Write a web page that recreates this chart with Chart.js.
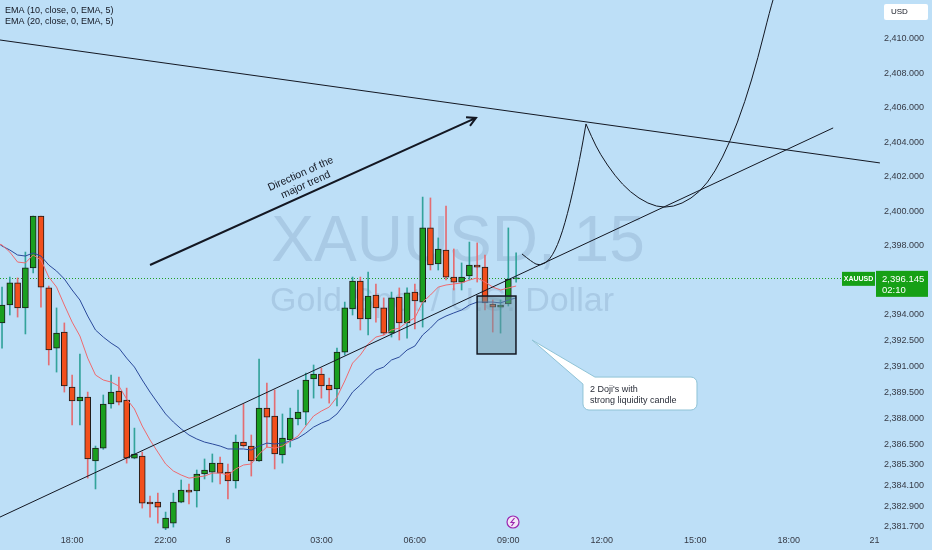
<!DOCTYPE html>
<html>
<head>
<meta charset="utf-8">
<script src="https://cdn.jsdelivr.net/npm/chart.js@4.4.1/dist/chart.umd.min.js"></script>
<style>
  html, body { margin: 0; padding: 0; background: #bddff7; }
  canvas { display: block; }
</style>
</head>
<body>
<canvas id="chart" width="932" height="550"></canvas>
<script>
// XAUUSD 15m, bar index 0 = first visible candle
const opens = [
  2393.53, 2394.57, 2395.85, 2394.40, 2396.72, 2399.73, 2395.56, 2392.07, 2393.00, 2389.81,
  2389.00, 2389.23, 2385.52, 2386.27, 2388.83, 2389.58, 2389.06, 2385.69, 2385.81, 2383.14,
  2383.14, 2381.63, 2381.92, 2383.14, 2383.84, 2383.78, 2384.77, 2384.88, 2385.40, 2384.88,
  2384.36, 2386.62, 2386.39, 2385.52, 2388.59, 2388.13, 2385.87, 2386.74, 2387.96, 2388.36,
  2390.28, 2390.57, 2389.93, 2389.70, 2391.84, 2394.34, 2395.96, 2393.76, 2395.15, 2394.40,
  2392.94, 2395.03, 2393.53, 2395.32, 2394.74, 2399.04, 2396.95, 2397.76, 2396.19, 2395.90,
  2396.25, 2396.89, 2396.77, 2394.63, 2394.45, 2394.63, 2396.08
];
const highs = [
  2395.61, 2396.19, 2396.14, 2397.64, 2399.73, 2399.73, 2395.67, 2394.40, 2393.53, 2390.51,
  2391.73, 2389.52, 2386.39, 2389.35, 2390.51, 2390.39, 2389.75, 2387.43, 2386.04, 2383.49,
  2383.66, 2382.56, 2383.66, 2384.42, 2384.19, 2385.00, 2385.64, 2385.93, 2385.75, 2385.35,
  2387.03, 2388.83, 2387.03, 2391.44, 2390.04, 2389.64, 2388.25, 2388.59, 2389.64, 2390.62,
  2391.09, 2390.91, 2390.33, 2392.07, 2394.74, 2396.19, 2396.19, 2396.48, 2395.79, 2394.98,
  2395.32, 2395.56, 2395.56, 2395.79, 2400.83, 2400.78, 2398.46, 2400.31, 2397.82, 2397.01,
  2398.22, 2398.17, 2397.47, 2394.86, 2394.86, 2399.04, 2397.59
];
const lows = [
  2392.07, 2393.99, 2393.87, 2392.89, 2396.43, 2394.45, 2391.09, 2390.68, 2389.52, 2387.61,
  2387.61, 2384.53, 2383.90, 2386.20, 2388.59, 2388.77, 2385.40, 2385.65, 2382.79, 2382.27,
  2381.92, 2381.52, 2381.69, 2383.10, 2383.03, 2382.85, 2384.48, 2384.30, 2384.19, 2383.32,
  2383.95, 2386.33, 2384.65, 2385.50, 2386.33, 2385.06, 2385.40, 2386.33, 2387.61, 2387.61,
  2389.17, 2389.17, 2388.88, 2388.71, 2391.67, 2393.99, 2393.12, 2392.83, 2393.58, 2392.83,
  2392.71, 2392.54, 2392.65, 2393.18, 2393.29, 2396.60, 2396.60, 2396.02, 2395.44, 2395.44,
  2396.02, 2395.90, 2394.28, 2393.00, 2392.94, 2394.51, 2395.90
];
const closes = [
  2394.57, 2395.85, 2394.40, 2396.72, 2399.73, 2395.61, 2391.96, 2392.94, 2389.87, 2389.00,
  2389.23, 2385.64, 2386.27, 2388.83, 2389.52, 2388.94, 2385.69, 2385.93, 2383.08, 2383.03,
  2382.85, 2382.21, 2383.14, 2383.84, 2383.72, 2384.77, 2385.00, 2385.40, 2384.82, 2384.36,
  2386.62, 2386.39, 2385.52, 2388.59, 2388.07, 2385.93, 2386.85, 2388.01, 2388.36, 2390.22,
  2390.57, 2389.87, 2389.64, 2391.84, 2394.40, 2395.96, 2393.76, 2395.09, 2394.40, 2392.94,
  2394.98, 2393.53, 2395.27, 2394.80, 2399.04, 2396.89, 2397.82, 2396.19, 2395.90, 2396.19,
  2396.89, 2396.77, 2394.69, 2394.45, 2394.57, 2396.08, 2396.145
];

// EMA lines start one bar before the first visible candle
const emaStart = -1;
const ema10 = [
  2398.22, 2398.05, 2397.64, 2397.06, 2397.01, 2397.47, 2397.18, 2396.19, 2395.61, 2394.57,
  2393.58, 2392.77, 2391.49, 2390.51, 2390.22, 2390.10, 2389.87, 2389.12, 2388.54, 2387.55,
  2386.74, 2386.04, 2385.35, 2384.94, 2384.71, 2384.53, 2384.59, 2384.65, 2384.82, 2384.82,
  2384.71, 2385.06, 2385.29, 2385.35, 2385.93, 2386.33, 2386.27, 2386.39, 2386.68, 2386.97,
  2387.55, 2388.13, 2388.42, 2388.65, 2389.23, 2390.16, 2391.20, 2391.67, 2392.31, 2392.71,
  2392.83, 2393.12, 2393.23, 2393.58, 2393.82, 2394.74, 2395.15, 2395.61, 2395.73, 2395.79,
  2395.85, 2396.02, 2396.14, 2395.90, 2395.61, 2395.44, 2395.56, 2395.67
];
const ema20 = [
  2398.34, 2397.99, 2397.76, 2397.47, 2397.41, 2397.59, 2397.41, 2396.89, 2396.54, 2396.08,
  2395.44, 2394.86, 2393.93, 2393.12, 2392.71, 2392.36, 2392.07, 2391.49, 2390.97, 2390.22,
  2389.52, 2388.88, 2388.25, 2387.78, 2387.38, 2387.03, 2386.80, 2386.62, 2386.51, 2386.39,
  2386.22, 2386.22, 2386.22, 2386.16, 2386.39, 2386.56, 2386.51, 2386.56, 2386.68, 2386.85,
  2387.14, 2387.49, 2387.72, 2387.90, 2388.25, 2388.83, 2389.52, 2389.93, 2390.39, 2390.80,
  2390.97, 2391.38, 2391.55, 2391.96, 2392.19, 2392.83, 2393.23, 2393.70, 2393.93, 2394.11,
  2394.28, 2394.57, 2394.74, 2394.74, 2394.74, 2394.69, 2394.86, 2394.98
];

const timeTickIdx = [9, 21, 29, 41, 53, 65, 77, 89, 101, 112];
const timeLabels = ['18:00', '22:00', '8', '03:00', '06:00', '09:00', '12:00', '15:00', '18:00', '21'];
const priceTicks = [2410, 2408, 2406, 2404, 2402, 2400, 2398, 2394, 2392.5, 2391, 2389.5, 2388, 2386.5, 2385.3, 2384.1, 2382.9, 2381.7];
const lastPrice = 2396.145;
const lastTime = '02:10';

// drawings, as [bar index, price]
const trendDown = [[-0.26, 2409.94], [112.7, 2402.81]];
const trendUp = [[-0.26, 2382.27], [106.7, 2404.84]];
const arrowLine = [[19.0, 2396.89], [60.85, 2405.42]];
const pathUp = [[66.75, 2397.53], [68.04, 2397.06], [69.06, 2396.83], [70.35, 2397.18], [71.63, 2398.34],
  [72.91, 2400.37], [74.2, 2403.10], [74.97, 2405.07]];
const pathDown = [[74.97, 2405.07], [75.74, 2404.26], [76.77, 2403.33], [78.69, 2402.05], [80.62, 2401.12],
  [82.93, 2400.43], [85.11, 2400.19], [87.29, 2400.43], [89.6, 2401.12], [91.53, 2402.28], [93.45, 2404.02],
  [95.38, 2406.34], [97.05, 2408.90], [98.59, 2411.68], [99.36, 2412.84]];
const dojiBox = [[60.99, 2395.09], [65.98, 2391.73]];
const calloutTip = [68.04, 2392.54];
const calloutBox = [[74.58, 2390.39], [89.22, 2388.48]];
const calloutText = ["2 Doji's with", 'strong liquidity candle'];

const GREEN = '#1a9f1f';
const RED = '#f24f1c';
const BG = '#bddff7';

const idx = opens.map((_, i) => i);
const isUp = i => closes[i] >= opens[i];

const fmt = v => v.toLocaleString('en-US', { minimumFractionDigits: 3, maximumFractionDigits: 3 });

function smoothPath(c, pts) {
  c.moveTo(pts[0][0], pts[0][1]);
  for (let i = 1; i < pts.length - 1; i++) {
    const mx = (pts[i][0] + pts[i + 1][0]) / 2;
    const my = (pts[i][1] + pts[i + 1][1]) / 2;
    c.quadraticCurveTo(pts[i][0], pts[i][1], mx, my);
  }
  const l = pts[pts.length - 1];
  c.lineTo(l[0], l[1]);
}

const drawings = {
  id: 'drawings',
  beforeDraw(chart) {
    const c = chart.ctx;
    c.save();
    c.fillStyle = BG;
    c.fillRect(0, 0, chart.width, chart.height);
    c.restore();
  },
  beforeDatasetsDraw(chart) {
    const c = chart.ctx;
    const a = chart.chartArea;
    const y = chart.scales.y;
    const cx = (a.left + a.right) / 2;
    const cy = (a.top + a.bottom) / 2;
    c.save();
    c.fillStyle = 'rgba(90, 120, 160, 0.2)';
    c.textAlign = 'center';
    c.textBaseline = 'middle';
    c.font = '64px "Liberation Sans"';
    c.fillText('XAUUSD, 15', cx + 20, cy - 22);
    c.font = '34px "Liberation Sans"';
    c.fillText('Gold Spot / U.S. Dollar', cx + 4, cy + 37);

    // last price dotted line
    const py = Math.round(y.getPixelForValue(lastPrice)) + 0.5;
    c.strokeStyle = '#1f9f22';
    c.lineWidth = 1;
    c.setLineDash([1, 2]);
    c.beginPath();
    c.moveTo(a.left, py);
    c.lineTo(a.right, py);
    c.stroke();
    c.restore();
  },
  afterDatasetsDraw(chart) {
    const c = chart.ctx;
    const a = chart.chartArea;
    const xs = chart.scales.x;
    const ys = chart.scales.y;
    const P = p => [xs.getPixelForValue(p[0]), ys.getPixelForValue(p[1])];

    c.save();
    c.strokeStyle = '#131722';
    c.lineWidth = 1;
    // trend lines
    [trendDown, trendUp].forEach(l => {
      const p0 = P(l[0]), p1 = P(l[1]);
      c.beginPath();
      c.moveTo(p0[0], p0[1]);
      c.lineTo(p1[0], p1[1]);
      c.stroke();
    });

    // projected path
    c.beginPath();
    smoothPath(c, pathUp.map(P));
    c.stroke();
    c.beginPath();
    smoothPath(c, pathDown.map(P));
    c.stroke();

    // arrow
    const s = P(arrowLine[0]), e = P(arrowLine[1]);
    const ang = Math.atan2(e[1] - s[1], e[0] - s[0]);
    c.lineWidth = 2;
    c.beginPath();
    c.moveTo(s[0], s[1]);
    c.lineTo(e[0], e[1]);
    c.moveTo(e[0] - 10 * Math.cos(ang - 0.5), e[1] - 10 * Math.sin(ang - 0.5));
    c.lineTo(e[0], e[1]);
    c.lineTo(e[0] - 10 * Math.cos(ang + 0.5), e[1] - 10 * Math.sin(ang + 0.5));
    c.stroke();

    // arrow text
    c.save();
    c.translate((s[0] + e[0]) / 2, (s[1] + e[1]) / 2);
    c.rotate(ang);
    c.fillStyle = '#131722';
    c.font = '10.5px "Liberation Sans"';
    c.textAlign = 'center';
    c.textBaseline = 'middle';
    c.fillText('Direction of the', -4, -21);
    c.fillText('major trend', -4, -9);
    c.restore();

    // doji box
    const b0 = P(dojiBox[0]), b1 = P(dojiBox[1]);
    c.fillStyle = 'rgba(105, 150, 165, 0.5)';
    c.fillRect(b0[0], b0[1], b1[0] - b0[0], b1[1] - b0[1]);
    c.lineWidth = 1.5;
    c.strokeStyle = '#131722';
    c.strokeRect(b0[0], b0[1], b1[0] - b0[0], b1[1] - b0[1]);

    // callout
    const t = P(calloutTip), r0 = P(calloutBox[0]), r1 = P(calloutBox[1]);
    const rr = 6;
    c.beginPath();
    c.moveTo(r0[0] + 12, r0[1]);
    c.lineTo(r1[0] - rr, r0[1]);
    c.arcTo(r1[0], r0[1], r1[0], r0[1] + rr, rr);
    c.lineTo(r1[0], r1[1] - rr);
    c.arcTo(r1[0], r1[1], r1[0] - rr, r1[1], rr);
    c.lineTo(r0[0] + rr, r1[1]);
    c.arcTo(r0[0], r1[1], r0[0], r1[1] - rr, rr);
    c.lineTo(r0[0], r0[1] + 7);
    c.lineTo(t[0], t[1]);
    c.closePath();
    c.fillStyle = '#ffffff';
    c.fill();
    c.lineWidth = 1;
    c.strokeStyle = '#8fc3d6';
    c.stroke();
    c.fillStyle = '#2a2e39';
    c.font = '9px "Liberation Sans"';
    c.textAlign = 'left';
    c.textBaseline = 'middle';
    c.fillText(calloutText[0], r0[0] + 7, r0[1] + 12);
    c.fillText(calloutText[1], r0[0] + 7, r0[1] + 23);

    // event marker
    const mx = xs.getPixelForValue(65.6), my = a.bottom - 8;
    c.beginPath();
    c.arc(mx, my, 6, 0, Math.PI * 2);
    c.fillStyle = '#f3e6f7';
    c.fill();
    c.strokeStyle = '#9c27b0';
    c.lineWidth = 1.2;
    c.stroke();
    c.beginPath();
    c.moveTo(mx + 1.5, my - 4);
    c.lineTo(mx - 2, my + 0.5);
    c.lineTo(mx + 1, my + 0.5);
    c.lineTo(mx - 1.5, my + 4);
    c.stroke();
    c.restore();
  },
  afterDraw(chart) {
    const c = chart.ctx;
    const a = chart.chartArea;
    const ys = chart.scales.y;
    const py = ys.getPixelForValue(lastPrice);
    c.save();
    // legend
    c.fillStyle = '#131722';
    c.font = '9px "Liberation Sans"';
    c.textBaseline = 'middle';
    c.fillText('EMA (10, close, 0, EMA, 5)', 5, 11);
    c.fillText('EMA (20, close, 0, EMA, 5)', 5, 22);

    // symbol + price tags
    c.fillStyle = '#16a016';
    c.fillRect(a.right - 34, py - 6, 33, 14);
    c.fillRect(a.right, py - 7, 52, 26);
    c.fillStyle = '#ffffff';
    c.font = 'bold 7px "Liberation Sans"';
    c.textAlign = 'center';
    c.fillText('XAUUSD', a.right - 17.5, py + 1);
    c.textAlign = 'left';
    c.font = '9.5px "Liberation Sans"';
    c.fillText(fmt(lastPrice), a.right + 6, py + 2);
    c.fillText(lastTime, a.right + 6, py + 13);

    // currency box
    c.fillStyle = '#ffffff';
    c.beginPath();
    c.roundRect(a.right + 8, 4, 44, 16, 2);
    c.fill();
    c.fillStyle = '#131722';
    c.font = '8px "Liberation Sans"';
    c.fillText('USD', a.right + 15, 12);
    c.restore();
  }
};

const ctx = document.getElementById('chart').getContext('2d');
new Chart(ctx, {
  type: 'bar',
  data: {
    datasets: [
      {
        type: 'line',
        label: 'EMA 10',
        data: ema10.map((v, i) => ({ x: emaStart + i, y: v })),
        borderColor: '#ef6a6f',
        borderWidth: 1,
        pointRadius: 0,
        tension: 0,
        order: 1,
      },
      {
        type: 'line',
        label: 'EMA 20',
        data: ema20.map((v, i) => ({ x: emaStart + i, y: v })),
        borderColor: '#2b4a9b',
        borderWidth: 1,
        pointRadius: 0,
        tension: 0,
        order: 1,
      },
      {
        label: 'body',
        data: idx.map(i => ({ x: i, y: [opens[i], closes[i]] })),
        backgroundColor: c => isUp(c.dataIndex) ? GREEN : RED,
        borderColor: '#1b1b1b',
        borderWidth: 1,
        borderSkipped: false,
        barThickness: 6,
        minBarLength: 1,
        grouped: false,
        order: 2,
      },
      {
        label: 'wick',
        data: idx.map(i => ({ x: i, y: [lows[i], highs[i]] })),
        backgroundColor: c => isUp(c.dataIndex) ? '#33a39b' : '#e46d72',
        borderWidth: 0,
        barThickness: 1,
        grouped: false,
        order: 3,
      },
    ],
  },
  options: {
    responsive: false,
    animation: false,
    devicePixelRatio: 1,
    layout: { padding: 0 },
    plugins: {
      legend: { display: false },
      tooltip: { enabled: false },
    },
    scales: {
      x: {
        type: 'linear',
        min: -0.26,
        max: 112.2,
        offset: false,
        grid: { display: false, drawTicks: false },
        border: { display: false },
        afterBuildTicks: scale => { scale.ticks = timeTickIdx.map(v => ({ value: v })); },
        afterFit: scale => {
          scale.height = 20;
          scale.paddingLeft = 0;
          scale.paddingRight = 0;
        },
        ticks: {
          autoSkip: false,
          maxRotation: 0,
          padding: 5,
          color: '#363a45',
          font: { family: 'Liberation Sans', size: 9 },
          callback: (v, i) => timeLabels[i],
        },
      },
      y: {
        type: 'linear',
        position: 'right',
        min: 2381.52,
        max: 2412.26,
        grid: { display: false, drawTicks: false },
        border: { display: false },
        afterBuildTicks: scale => { scale.ticks = priceTicks.map(v => ({ value: v })); },
        afterFit: scale => {
          scale.width = 56;
          scale.paddingTop = 0;
          scale.paddingBottom = 0;
        },
        ticks: {
          padding: 8,
          color: '#363a45',
          font: { family: 'Liberation Sans', size: 9 },
          callback: v => fmt(v),
        },
      },
    },
  },
  plugins: [drawings],
});
</script>
</body>
</html>
